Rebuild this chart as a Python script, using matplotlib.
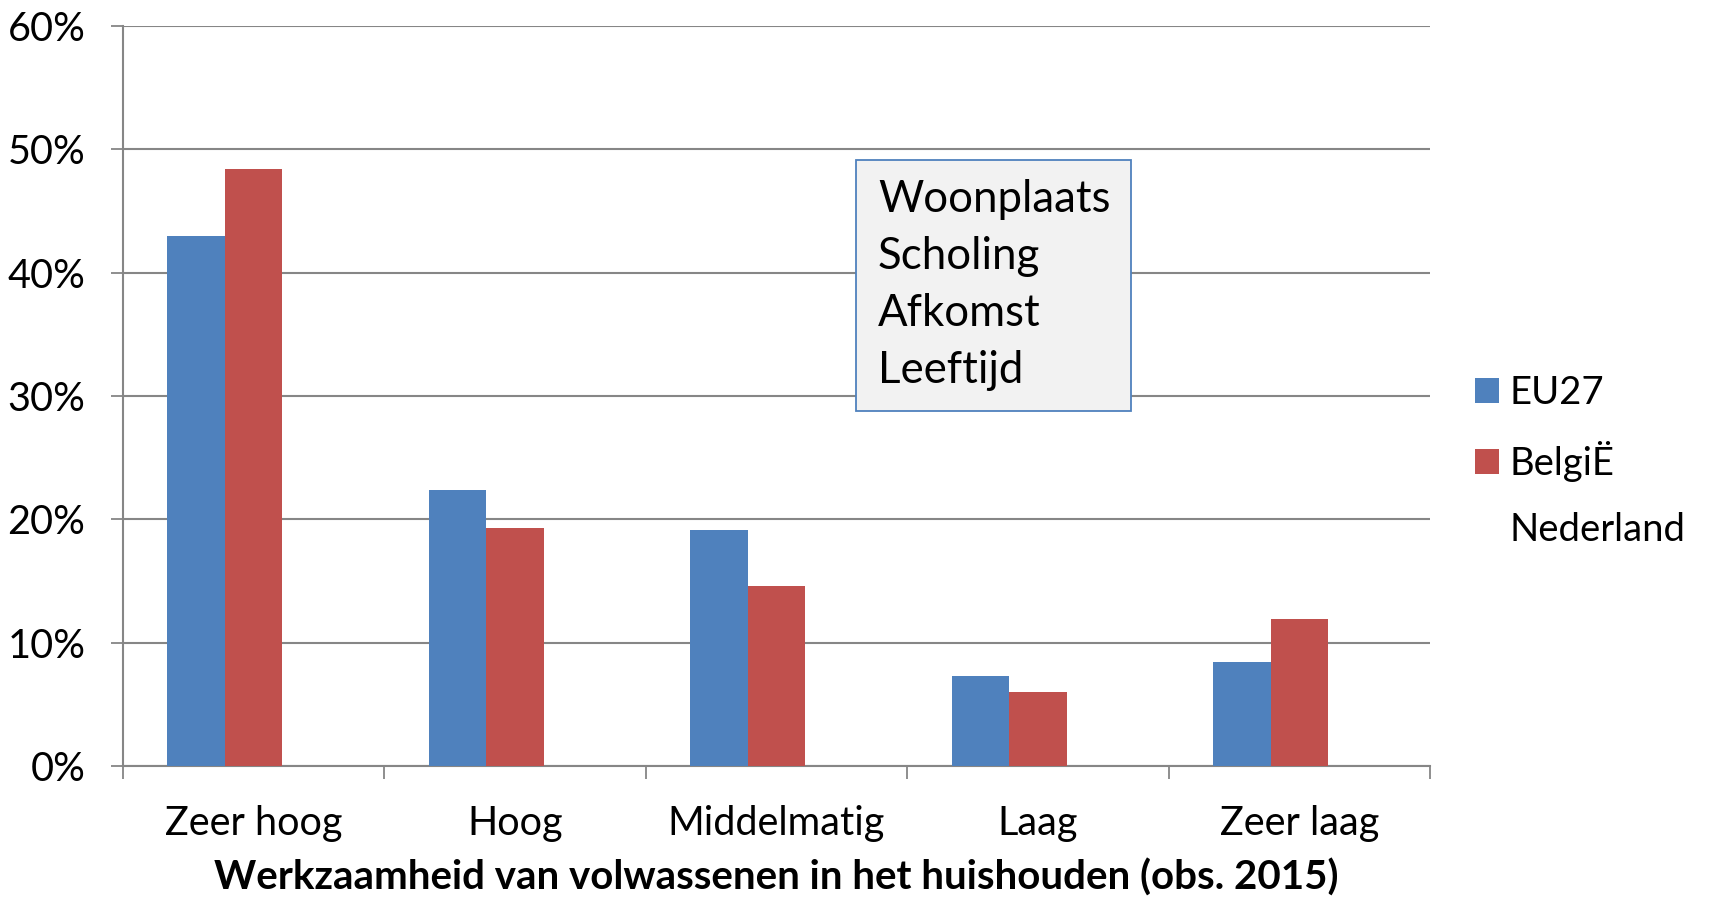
import matplotlib.pyplot as plt
import numpy as np
from matplotlib.patches import Patch, Rectangle
from matplotlib.ticker import FuncFormatter

# data
categories = ['Zeer hoog', 'Hoog', 'Middelmatig', 'Laag', 'Zeer laag']
eu27 = [43.0, 22.4, 19.1, 7.3, 8.4]
belgie = [48.4, 19.3, 14.6, 6.0, 11.9]
series_names = ['EU27', 'BelgiË', 'Nederland']
box_lines = ['Woonplaats', 'Scholing', 'Afkomst', 'Leeftijd']
xlabel = 'Werkzaamheid van volwassenen in het huishouden (obs. 2015)'

blue = '#4F81BD'
red = '#C0504D'
grid = '#868686'

plt.rcParams['font.family'] = ['Lato', 'DejaVu Sans']

fig = plt.figure(figsize=(17.13, 9.0), dpi=100)
ax = fig.add_axes([0.0718, 0.1489, 0.8348 - 0.0718, 0.9711 - 0.1489])

x = np.arange(len(categories))
w = 0.22
ax.bar(x - w, eu27, width=w, color=blue, zorder=3)
ax.bar(x, belgie, width=w, color=red, zorder=3)

ax.set_xlim(-0.5, len(categories) - 0.5)
ax.set_ylim(0, 60)
ax.set_yticks(np.arange(0, 61, 10))
ax.yaxis.set_major_formatter(FuncFormatter(lambda v, p: '%d%%' % v))
ax.grid(axis='y', color=grid, linewidth=1.5, zorder=0)
ax.set_axisbelow(True)

ax.set_xticks(x)
ax.set_xticklabels(categories)
ax.set_xticks(np.arange(-0.5, len(categories), 1.0), minor=True)
ax.tick_params(axis='x', which='major', length=0, labelsize=28.5, pad=28)
ax.tick_params(axis='x', which='minor', length=9, width=1.3, color=grid, direction='out')
ax.tick_params(axis='y', length=9, width=1.3, color=grid, labelsize=28.5, pad=18)

for s in ['top', 'right']:
    ax.spines[s].set_visible(False)
ax.spines['left'].set_color(grid)
ax.spines['left'].set_linewidth(1.5)
ax.spines['bottom'].set_color(grid)
ax.spines['bottom'].set_linewidth(1.5)

ax.set_xlabel(xlabel, fontsize=29, fontweight='bold', labelpad=12)

# text box
ax.add_patch(Rectangle((0.561, 0.4797), 0.771 - 0.561, 0.8196 - 0.4797, transform=ax.transAxes,
                       facecolor='#F2F2F2', edgecolor=blue, linewidth=1.3, zorder=5))
for i, line in enumerate(box_lines):
    ax.text(0.5777, 0.7649 - i * 0.077, line, transform=ax.transAxes, fontsize=31.5,
            va='center', ha='left', zorder=6)

handles = [Patch(facecolor=blue), Patch(facecolor=red), Patch(facecolor='none', edgecolor='none')]
fig.legend(handles, series_names, loc='center left', bbox_to_anchor=(0.841, 0.4875),
           frameon=False, fontsize=27.5, handlelength=0.62, handleheight=0.62,
           handletextpad=0.28, labelspacing=0.78)

fig.savefig('out.png', dpi=100)
